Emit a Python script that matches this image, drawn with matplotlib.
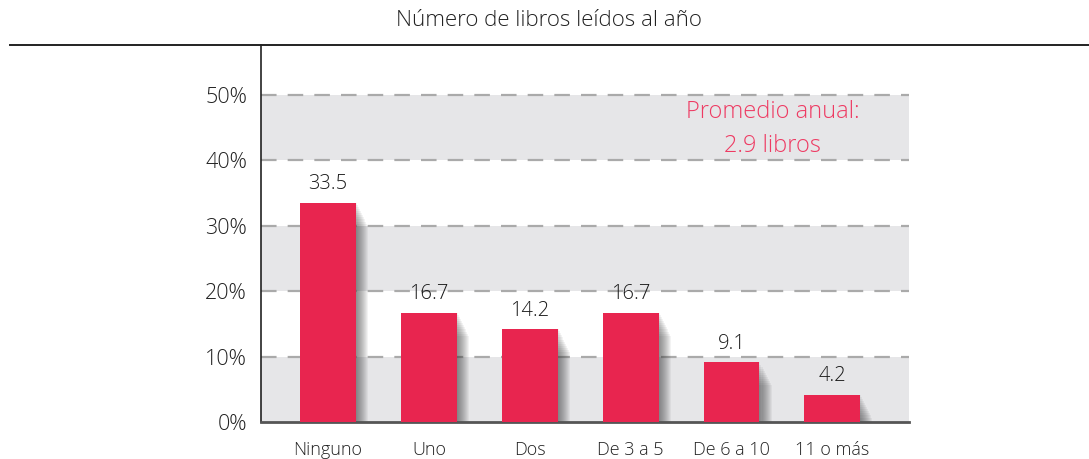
import numpy as np
import matplotlib.pyplot as plt
from matplotlib.lines import Line2D

categorias = ["Ninguno", "Uno", "Dos", "De 3 a 5", "De 6 a 10", "11 o más"]
porcentajes = [33.5, 16.7, 14.2, 16.7, 9.1, 4.2]
etiquetas = ["33.5", "16.7", "14.2", "16.7", "9.1", "4.2"]
ticks_y = [0, 10, 20, 30, 40, 50]
titulo = "Número de libros leídos al año"
nota = "Promedio anual:\n2.9 libros"

rojo = "#e8254f"
gris_banda = "#e6e6e8"

plt.rcParams['font.family'] = ['Open Sans', 'DejaVu Sans']

fig = plt.figure(figsize=(10.89, 4.59), dpi=100)
ax = fig.add_axes([261 / 1089, 1 - 422 / 459, (909 - 261) / 1089, (422 - 45) / 459])

x = np.arange(len(categorias))
ax.set_xlim(-0.665, 5.76)
ax.set_ylim(0, 57.6)

# bandas grises
for lo in [0, 20, 40]:
    ax.axhspan(lo, lo + 10, color=gris_banda, zorder=0, lw=0)
for t in ticks_y[1:]:
    ax.axhline(t, color="#aaaaaa", lw=1.6, ls=(0, (7, 5)), zorder=1)

# sombra difusa
for i in range(12):
    off = 0.01 + i * 0.01
    ax.bar(x + off, [p - 0.12 * i for p in porcentajes], width=0.555,
           bottom=-0.2 * i, color="#333333", alpha=0.06, zorder=2, lw=0)

ax.bar(x, porcentajes, width=0.555, color=rojo, zorder=3, lw=0)

for xi, p, lab in zip(x, porcentajes, etiquetas):
    ax.text(xi, p + 1.3, lab, ha="center", va="bottom", fontsize=14.5,
            color="#1a1a1a", fontweight="light")

ax.text(4.41, 44.8, nota, ha="center", va="center", fontsize=17, color="#ee3b63",
        linespacing=1.55, fontweight="light")

ax.set_xticks(x)
ax.set_xticklabels(categorias, fontsize=13, color="#222222", fontweight="light")
ax.set_yticks(ticks_y)
ax.set_yticklabels([f"{t}%" for t in ticks_y], fontsize=15.5, color="#222222",
                   fontweight="light")
ax.tick_params(length=0)
ax.tick_params(axis="y", pad=10)
ax.tick_params(axis="x", pad=14)

for s in ["top", "right"]:
    ax.spines[s].set_visible(False)
ax.spines["left"].set_color("#222222")
ax.spines["left"].set_linewidth(1.2)
ax.spines["bottom"].set_color("#555555")
ax.spines["bottom"].set_linewidth(2)

fig.text(549 / 1089, 1 - 20 / 459, titulo, ha="center", va="center", fontsize=16,
         color="#222222", fontweight="light")
fig.add_artist(Line2D([10 / 1089, 1], [1 - 45 / 459, 1 - 45 / 459], color="#222222", lw=1.4))

fig.savefig("out.png", dpi=100)
